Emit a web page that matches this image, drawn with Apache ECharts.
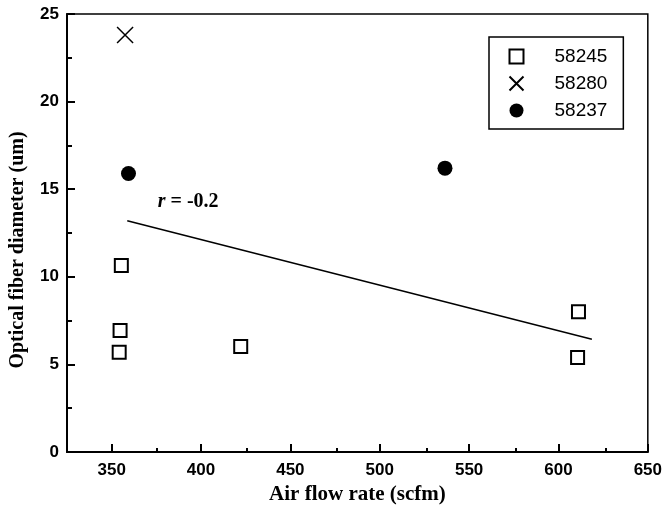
<!DOCTYPE html>
<html>
<head>
<meta charset="utf-8">
<script src="https://cdn.jsdelivr.net/npm/echarts@6/dist/echarts.min.js"></script>
<style>
  html, body { margin: 0; padding: 0; background: #fff; }
  #chart { width: 665px; height: 512px; }
</style>
</head>
<body>
<div id="chart"></div>
<script>
// axis ticks
const xMajor = [350, 400, 450, 500, 550, 600, 650];
const xMinor = [375, 425, 475, 525, 575, 625];
const yMajor = [0, 5, 10, 15, 20, 25];
const yMinor = [2.5, 7.5, 12.5, 17.5, 22.5];

// series: [air flow rate, fiber diameter]
const s58245 = [[355.4, 10.65], [354.7, 6.93], [354.2, 5.7], [422.2, 6.02], [611.2, 8.0], [610.7, 5.4]];
const s58280 = [[357.5, 23.8]];
const s58237 = [[359.4, 15.9], [536.5, 16.2]];
const fitLine = [[358.7, 13.2], [618.7, 6.43]];
const rLabelAt = [[392.8, 14.3]];

const black = '#000';
const sans = 'Liberation Sans, Arial, sans-serif';
const serif = 'Liberation Serif, Times New Roman, serif';
const gridBox = { left: 67, right: 14, top: 14, bottom: 60 };

const myChart = echarts.init(document.getElementById('chart'));

const option = {
  backgroundColor: '#fff',
  animation: false,
  grid: [
    Object.assign({ show: true, borderColor: black, borderWidth: 1.5, containLabel: false }, gridBox),
    Object.assign({ show: false, containLabel: false }, gridBox)
  ],
  xAxis: [
    {
      type: 'value', gridIndex: 0, min: 325, max: 650, interval: 25,
      name: 'Air flow rate (scfm)', nameLocation: 'middle', nameGap: 31,
      nameTextStyle: { fontFamily: serif, fontWeight: 'bold', fontSize: 21, color: black },
      axisLine: { show: true, lineStyle: { color: black, width: 2 } },
      axisTick: { show: true, inside: true, length: 8, customValues: xMajor, lineStyle: { color: black, width: 2 } },
      axisLabel: { customValues: xMajor, fontFamily: sans, fontWeight: 'bold', fontSize: 17, color: black, margin: 10 },
      splitLine: { show: false }
    },
    {
      type: 'value', gridIndex: 1, min: 325, max: 650, interval: 25,
      axisLine: { show: false },
      axisTick: { show: true, inside: true, length: 4, customValues: xMinor, lineStyle: { color: black, width: 2 } },
      axisLabel: { show: false },
      splitLine: { show: false }
    }
  ],
  yAxis: [
    {
      type: 'value', gridIndex: 0, min: 0, max: 25, interval: 5,
      name: 'Optical fiber diameter (um)', nameLocation: 'middle', nameGap: 39,
      nameTextStyle: { fontFamily: serif, fontWeight: 'bold', fontSize: 20, color: black, padding: [0, 34, 0, 0] },
      axisLine: { show: true, lineStyle: { color: black, width: 2 } },
      axisTick: { show: true, inside: true, length: 8, customValues: yMajor, lineStyle: { color: black, width: 2 } },
      axisLabel: { customValues: yMajor, fontFamily: sans, fontWeight: 'bold', fontSize: 17, color: black, margin: 8 },
      splitLine: { show: false }
    },
    {
      type: 'value', gridIndex: 1, min: 0, max: 25, interval: 5,
      axisLine: { show: false },
      axisTick: { show: true, inside: true, length: 5, customValues: yMinor, lineStyle: { color: black, width: 2 } },
      axisLabel: { show: false },
      splitLine: { show: false }
    }
  ],
  legend: {
    data: ['58245', '58280', '58237'],
    orient: 'vertical',
    left: 489, top: 37,
    padding: [10, 16, 9, 18],
    itemWidth: 14, itemHeight: 14, itemGap: 8,
    borderColor: black, borderWidth: 1.5, borderRadius: 0,
    backgroundColor: '#fff',
    textStyle: { fontFamily: sans, fontSize: 19, color: black, padding: [0, 0, 0, 26] }
  },
  series: [
    {
      name: 'fit', type: 'line', data: fitLine, symbol: 'none',
      lineStyle: { color: black, width: 1.5 }, silent: true, z: 1
    },
    {
      name: '58245', type: 'scatter', data: s58245, symbol: 'rect', symbolSize: 13,
      itemStyle: { color: '#fff', borderColor: black, borderWidth: 2, opacity: 1 }
    },
    {
      name: '58280', type: 'scatter', data: s58280, symbol: 'path://M0,0L10,10M10,0L0,10', symbolSize: 16,
      itemStyle: { color: 'none', borderColor: black, borderWidth: 1.5, opacity: 1 }
    },
    {
      name: '58237', type: 'scatter', data: s58237, symbol: 'circle', symbolSize: 15,
      itemStyle: { color: black, opacity: 1 }
    },
    {
      name: 'r', type: 'scatter', data: rLabelAt, symbolSize: 0, silent: true,
      itemStyle: { opacity: 1 },
      label: {
        show: true, position: 'inside',
        formatter: '{i|r} = -0.2',
        fontFamily: serif, fontWeight: 'bold', fontSize: 20, color: black,
        rich: { i: { fontFamily: serif, fontStyle: 'italic', fontWeight: 'bold', fontSize: 20, color: black } }
      }
    }
  ]
};

option && myChart.setOption(option);

window.addEventListener('resize', () => myChart.resize());
</script>
</body>
</html>
